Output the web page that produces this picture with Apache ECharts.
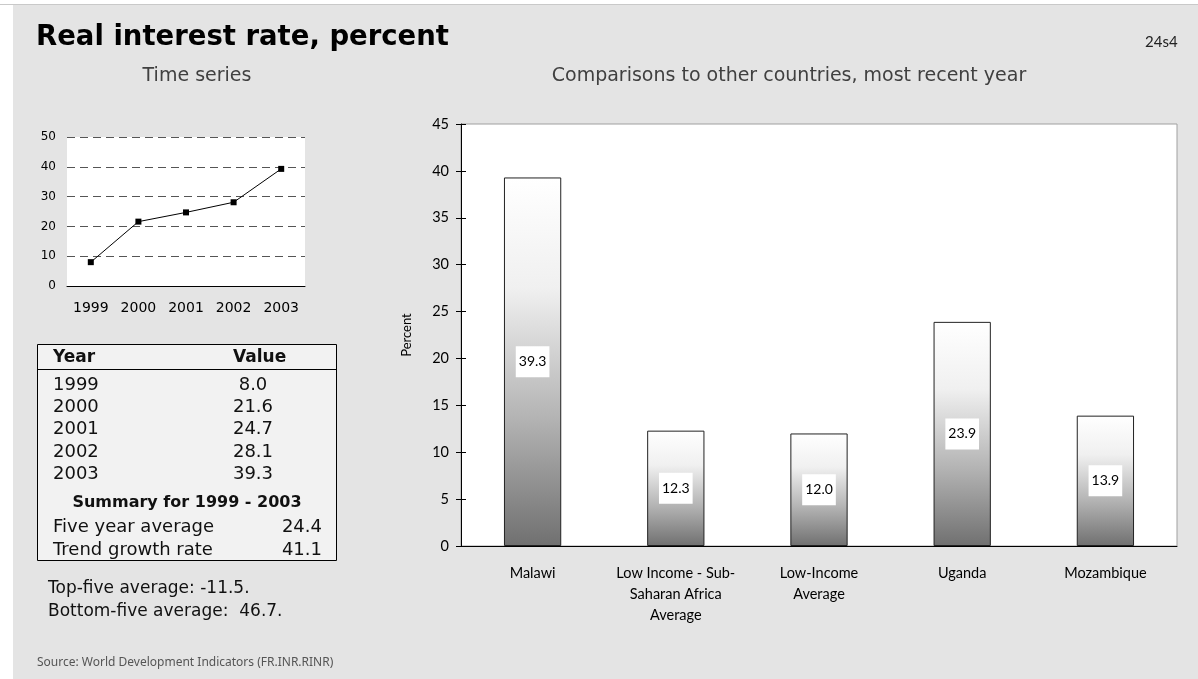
<!DOCTYPE html>
<html>
<head>
<meta charset="utf-8">
<script src="https://cdn.jsdelivr.net/npm/echarts@6/dist/echarts.min.js"></script>
<style>
  html, body { margin: 0; padding: 0; background: #fff; }
  #chart { width: 1198px; height: 679px; }
</style>
</head>
<body>
<div id="chart"></div>
<script>
// time series (left)
const years = ['1999', '2000', '2001', '2002', '2003']
const rates = [8.0, 21.6, 24.7, 28.1, 39.3]

// comparison (right)
const countries = [
  'Malawi',
  'Low Income - Sub-\nSaharan Africa\nAverage',
  'Low-Income\nAverage',
  'Uganda',
  'Mozambique',
]
const countryRates = [39.3, 12.3, 12.0, 23.9, 13.9]

// summary table
const summaryNames = ['Five year average', 'Trend growth rate']
const summaryValues = [24.4, 41.1]
const topFive = -11.5
const bottomFive = 46.7

const chart = echarts.init(document.getElementById('chart'))

const sans = '"DejaVu Sans", sans-serif'
const noto = '"Noto Sans", sans-serif'
const labelFont = 'Lato, sans-serif'

function txt(text, x, y, opts) {
  return {
    type: 'text',
    silent: true,
    style: Object.assign({
      text: text,
      x: x,
      y: y,
      fill: '#111',
      font: '18px ' + sans,
      align: 'left',
      verticalAlign: 'middle',
    }, opts || {}),
  }
}

// page frame, headings, table and notes
const graphics = [
  { type: 'rect', shape: { x: 0, y: 0, width: 13, height: 679 }, style: { fill: '#fff' } },
  { type: 'rect', shape: { x: 0, y: 0, width: 1198, height: 4 }, style: { fill: '#fff' } },
  { type: 'rect', shape: { x: 0, y: 4, width: 1198, height: 1 }, style: { fill: '#c9c9c9' } },

  txt('Real interest rate, percent', 36, 38, { font: 'bold 27.5px ' + sans, fill: '#000' }),
  txt('24s4', 1145, 42, { font: '15px ' + labelFont, fill: '#222' }),
  txt('Time series', 197, 76, { font: '19px ' + sans, fill: '#404040', align: 'center' }),
  txt('Comparisons to other countries, most recent year', 789, 76, { font: '19px ' + sans, fill: '#404040', align: 'center' }),

  {
    type: 'rect',
    shape: { x: 37.5, y: 344.5, width: 299, height: 216 },
    style: { fill: '#f2f2f2', stroke: '#000', lineWidth: 1 },
  },
  { type: 'line', shape: { x1: 37.5, y1: 369.5, x2: 336.5, y2: 369.5 }, style: { stroke: '#000', lineWidth: 1 } },
  txt('Year', 53, 358, { font: 'bold 17px ' + sans }),
  txt('Value', 233, 358, { font: 'bold 17px ' + sans }),
]

years.forEach((y, i) => {
  graphics.push(txt(y, 53, 385 + i * 22.3))
  graphics.push(txt(rates[i].toFixed(1), 253, 385 + i * 22.3, { align: 'center' }))
})
graphics.push(txt('Summary for ' + years[0] + ' - ' + years[years.length - 1], 187, 503, {
  font: 'bold 16px ' + sans, align: 'center',
}))
summaryNames.forEach((n, i) => {
  graphics.push(txt(n, 53, 527 + i * 23))
  graphics.push(txt(summaryValues[i].toFixed(1), 322, 527 + i * 23, { align: 'right' }))
})
graphics.push(txt('Top-five average: ' + topFive.toFixed(1) + '.', 48, 589, { font: '17px ' + sans }))
graphics.push(txt('Bottom-five average:  ' + bottomFive.toFixed(1) + '.', 48, 612, { font: '17px ' + sans }))
graphics.push(txt('Source: World Development Indicators (FR.INR.RINR)', 37, 663, { font: '12px ' + noto, fill: '#555' }))

const barFill = new echarts.graphic.LinearGradient(0, 0, 0, 1, [
  { offset: 0, color: '#ffffff' },
  { offset: 0.3, color: '#f0f0f0' },
  { offset: 0.65, color: '#b4b4b4' },
  { offset: 1, color: '#707070' },
])

const option = {
  backgroundColor: '#e4e4e4',
  animation: false,
  textStyle: { fontFamily: labelFont },
  graphic: graphics,
  grid: [
    {
      left: 67, top: 137, width: 238, height: 149,
      show: true, backgroundColor: '#fff', borderWidth: 0,
    },
    {
      left: 461, top: 124, right: 21, height: 422,
      show: true, backgroundColor: '#fff', borderColor: '#a0a0a0', borderWidth: 1,
    },
  ],
  xAxis: [
    {
      gridIndex: 0,
      type: 'category',
      data: years,
      boundaryGap: true,
      axisLine: { lineStyle: { color: '#000', width: 1 } },
      axisTick: { length: 4, lineStyle: { color: '#000' } },
      axisLabel: { color: '#000', fontSize: 14, margin: 15, interval: 0, hideOverlap: false, fontFamily: sans },
    },
    {
      gridIndex: 1,
      type: 'category',
      position: 'bottom',
      data: countries,
      axisLine: { lineStyle: { color: '#000', width: 1 } },
      axisTick: { length: 5, lineStyle: { color: '#000' } },
      axisLabel: { color: '#000', fontSize: 14.5, lineHeight: 21, margin: 17, interval: 0 },
    },
    {
      // inner half of the crossing ticks
      gridIndex: 1,
      type: 'category',
      position: 'bottom',
      data: countries,
      axisLine: { show: false },
      axisTick: { inside: true, length: 5, lineStyle: { color: '#000' } },
      axisLabel: { show: false },
    },
  ],
  yAxis: [
    {
      gridIndex: 0,
      type: 'value',
      min: 0, max: 50, interval: 10,
      axisLine: { show: false },
      axisTick: { show: false },
      axisLabel: { color: '#000', fontSize: 12, margin: 11, fontFamily: sans },
      splitLine: { lineStyle: { color: '#555', type: [8, 5], width: 1 } },
    },
    {
      gridIndex: 1,
      type: 'value',
      position: 'left',
      min: 0, max: 45, interval: 5,
      name: 'Percent',
      nameLocation: 'middle',
      nameGap: 48,
      nameTextStyle: { color: '#000', fontSize: 13 },
      axisLine: { show: true, lineStyle: { color: '#000', width: 1 } },
      axisTick: { show: true, length: 5, lineStyle: { color: '#000' } },
      axisLabel: { color: '#000', fontSize: 14.5, margin: 12 },
      splitLine: { show: false },
    },
    {
      gridIndex: 1,
      type: 'value',
      position: 'left',
      min: 0, max: 45, interval: 5,
      axisLine: { show: false },
      axisTick: { show: true, inside: true, length: 5, lineStyle: { color: '#000' } },
      axisLabel: { show: false },
      splitLine: { show: false },
    },
  ],
  series: [
    {
      type: 'line',
      xAxisIndex: 0,
      yAxisIndex: 0,
      data: rates,
      symbol: 'rect',
      symbolSize: 6,
      lineStyle: { color: '#000', width: 1 },
      itemStyle: { color: '#000' },
    },
    {
      type: 'bar',
      xAxisIndex: 1,
      yAxisIndex: 1,
      data: countryRates,
      barWidth: '40%',
      itemStyle: { color: barFill, borderColor: '#222', borderWidth: 1 },
      label: {
        show: true,
        position: 'inside',
        formatter: (p) => p.value.toFixed(1),
        color: '#000',
        fontSize: 14,
        lineHeight: 15,
        backgroundColor: '#fff',
        padding: [8, 3],
      },
    },
  ],
}

chart.setOption(option)
</script>
</body>
</html>
